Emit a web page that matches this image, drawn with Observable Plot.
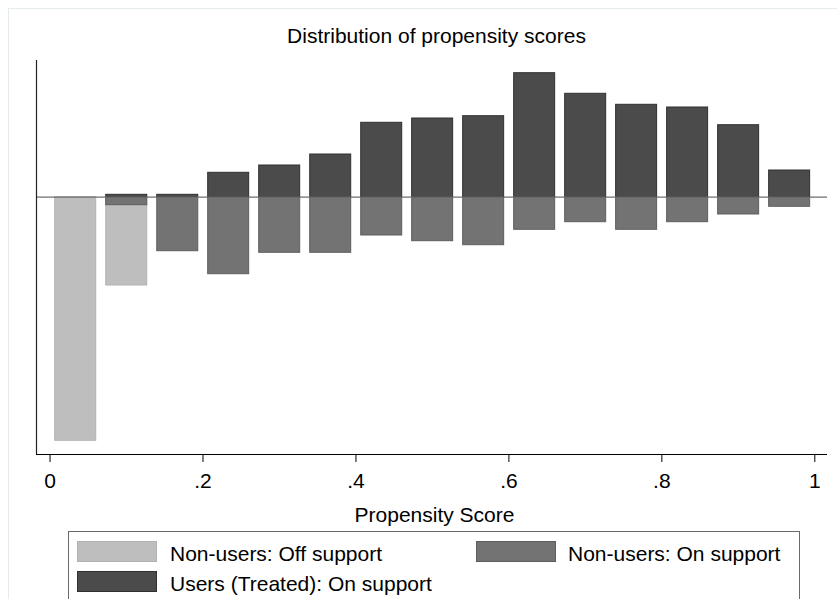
<!DOCTYPE html>
<html>
<head>
<meta charset="utf-8">
<script src="https://cdn.jsdelivr.net/npm/d3@7"></script>
<script src="https://cdn.jsdelivr.net/npm/@observablehq/plot@0.6"></script>
<style>
  html, body { margin: 0; padding: 0; background: #fff; overflow: hidden; }
  #wrap { position: relative; width: 837px; height: 599px; overflow: hidden; font-family: "Liberation Sans", Arial, sans-serif; color: #000; }
  #outer { position: absolute; left: 8px; top: 8px; width: 900px; height: 700px; border: 1px solid #e4ecef; box-sizing: border-box; }
  .txt { position: absolute; font-size: 21px; line-height: 21px; white-space: nowrap; }
  #legend { position: absolute; left: 68px; top: 531px; width: 732px; height: 120px; border: 1px solid #6a6a6a; box-sizing: border-box; }
  .sw { position: absolute; width: 80px; height: 21px; box-sizing: border-box; }
</style>
</head>
<body>
<div id="wrap">
  <div id="outer"></div>
  <div id="chart" style="position:absolute;left:0;top:0;"></div>
  <div class="txt" id="title" style="left:0;width:873px;text-align:center;top:25px;"></div>
  <div class="txt" id="xlabel" style="left:0;width:869px;text-align:center;top:504px;"></div>
  <div id="legend"></div>
</div>
<script>
// ---- data ----
const binCenters = [0.0336, 0.1003, 0.1670, 0.2336, 0.3003, 0.3670, 0.4337, 0.5003, 0.5670, 0.6337, 0.7004, 0.7670, 0.8337, 0.9004, 0.9671];
const treatedOn   = [0, 0.0024, 0.0024, 0.0244, 0.0317, 0.0427, 0.0744, 0.0787, 0.0810, 0.1240, 0.1034, 0.0924, 0.0897, 0.0720, 0.0267];
const untreatedOn = [0, -0.0080, -0.0540, -0.0770, -0.0556, -0.0556, -0.0383, -0.0440, -0.0480, -0.0326, -0.0250, -0.0326, -0.0250, -0.0173, -0.0096];
const untreatedOff= [-0.2436, -0.0883, 0, 0, 0, 0, 0, 0, 0, 0, 0, 0, 0, 0, 0];
const xTicks = [0, 0.2, 0.4, 0.6, 0.8, 1];
const xTickLabels = ["0", ".2", ".4", ".6", ".8", "1"];
const seriesNames = ["Non-users: Off support", "Non-users: On support", "Users (Treated): On support"];
const titleText = "Distribution of propensity scores";
const xLabelText = "Propensity Score";

// ---- layout / style ----
const halfWidth = 0.0268;
const xDomain = [-0.0177, 1.0166];
const yDomain = [-0.2573, 0.1367];
const fills   = ["#bebebe", "#737373", "#4b4b4b"];
const strokes = ["#b2b2b2", "#5e5e5e", "#303030"];

function rows(vals) {
  return binCenters.map((c, i) => ({x1: c - halfWidth, x2: c + halfWidth, v: vals[i]})).filter(d => d.v !== 0);
}

const chart = Plot.plot({
  width: 837,
  height: 599,
  marginLeft: 36,
  marginRight: 10,
  marginTop: 60,
  marginBottom: 145,
  style: {fontFamily: '"Liberation Sans", Arial, sans-serif', fontSize: "21px", color: "#000", background: "transparent", overflow: "visible"},
  x: {domain: xDomain},
  y: {domain: yDomain, axis: null},
  marks: [
    Plot.rect(rows(untreatedOff), {x1: "x1", x2: "x2", y1: 0, y2: "v", fill: fills[0], stroke: strokes[0], strokeWidth: 1}),
    Plot.rect(rows(untreatedOn),  {x1: "x1", x2: "x2", y1: 0, y2: "v", fill: fills[1], stroke: strokes[1], strokeWidth: 1}),
    Plot.rect(rows(treatedOn),    {x1: "x1", x2: "x2", y1: 0, y2: "v", fill: fills[2], stroke: strokes[2], strokeWidth: 1}),
    Plot.ruleY([0], {stroke: "#6e6e6e", strokeWidth: 1.3}),
    Plot.ruleX([xDomain[0]], {y1: yDomain[0], y2: yDomain[1], stroke: "#222", strokeWidth: 1.2}),
    Plot.ruleY([yDomain[0]], {stroke: "#000", strokeWidth: 1.2}),
    Plot.axisX({ticks: xTicks, tickSize: 8, tickPadding: 11, label: null, fontSize: 21,
      tickFormat: d => xTickLabels[xTicks.indexOf(d)]})
  ]
});
document.getElementById("chart").appendChild(chart);

document.getElementById("title").textContent = titleText;
document.getElementById("xlabel").textContent = xLabelText;

// legend
const legend = document.getElementById("legend");
const legendPos = [
  {sx: 8, sy: 9, tx: 101, ty: 11},
  {sx: 407, sy: 9, tx: 499, ty: 11},
  {sx: 8, sy: 39, tx: 101, ty: 41}
];
seriesNames.forEach((name, i) => {
  const p = legendPos[i];
  const sw = document.createElement("div");
  sw.className = "sw";
  sw.style.left = p.sx + "px";
  sw.style.top = p.sy + "px";
  sw.style.background = fills[i];
  sw.style.border = "1px solid " + strokes[i];
  legend.appendChild(sw);
  const t = document.createElement("div");
  t.className = "txt";
  t.style.left = p.tx + "px";
  t.style.top = p.ty + "px";
  t.textContent = name;
  legend.appendChild(t);
});
</script>
</body>
</html>
